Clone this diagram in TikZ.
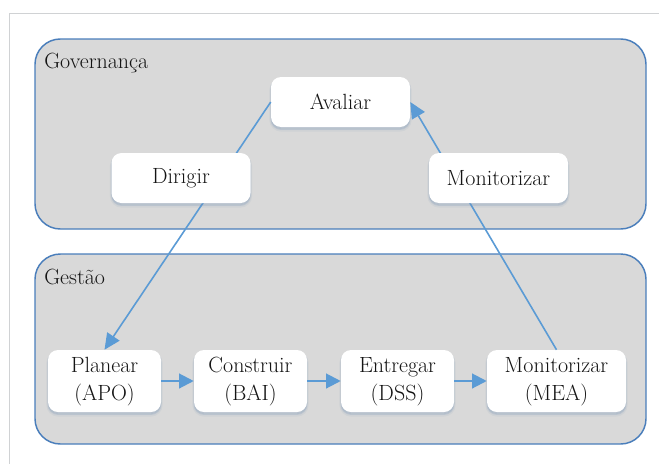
\documentclass[tikz,border=0pt]{standalone}
\usepackage{fontspec}
\usetikzlibrary{arrows.meta}
\definecolor{flow}{RGB}{91,155,213}
\definecolor{frameline}{RGB}{74,126,187}
\definecolor{panel}{RGB}{217,217,217}
\definecolor{pagerule}{RGB}{208,210,212}
\definecolor{ink}{RGB}{20,20,20}
\definecolor{shadowtint}{RGB}{120,150,185}
\newcommand{\twoline}[2]{\raisebox{-4pt}{\begin{tabular}{@{}c@{}}#1\\#2\end{tabular}}}
\tikzset{
  txt/.style={font=\fontsize{16.5}{20.5}\selectfont, text=ink},
  panelbox/.style={draw=frameline, line width=1.1pt, fill=panel, rounded corners=19pt},
  card/.style={txt, fill=white, rounded corners=7.5pt, align=center,
    minimum height=37.5pt, minimum width=104.25pt, inner sep=0pt,
    preaction={draw=shadowtint, draw opacity=0.10, line width=2.4pt, fill=shadowtint, fill opacity=0.10, transform canvas={yshift=-2.2pt}},
    preaction={draw=shadowtint, draw opacity=0.12, line width=1.2pt, fill=shadowtint, fill opacity=0.12, transform canvas={yshift=-1.6pt}},
    preaction={fill=shadowtint, fill opacity=0.16, transform canvas={yshift=-0.9pt}}},
  stagecard/.style={card, minimum height=46.5pt, minimum width=84.75pt},
  link/.style={draw=flow, line width=1.2pt},
  flowarrow/.style={link, -{Triangle[length=12pt,width=11pt]}},
  stagearrow/.style={draw=flow, line width=1.6pt, -{Triangle[length=11pt,width=11pt]}}
}
\begin{document}
\begin{tikzpicture}[x=0.75pt,y=-0.75pt]
\useasboundingbox (0,0) rectangle (659,464);
% page rules
\draw[pagerule, line width=0.8pt] (659,13.5) -- (9.5,13.5) -- (9.5,464);
% panels
\path[panelbox] (35,39) rectangle (646,229);
\path[panelbox] (35,254) rectangle (646,444);
\node[txt, anchor=base west, inner sep=0pt] (gov) at (44,68) {Governança};
\node[txt, anchor=base west, inner sep=0pt] (ges) at (44,284) {Gestão};
% top and bottom cards
\node[card] (aval) at (340.5,102) {Avaliar};
\node[stagecard] (apo) at (104.5,381) {\twoline{Planear}{(APO)}};
\node[stagecard] (bai) at (250.5,381) {\twoline{Construir}{(BAI)}};
\node[stagecard] (dss) at (397.5,381) {\twoline{Entregar}{(DSS)}};
\node[stagecard, minimum width=104.25pt] (mea) at (556.5,381) {\twoline{Monitorizar}{(MEA)}};
% governance loop (passes behind the middle cards)
\draw[flowarrow] (aval.west) -- (apo.north);
\draw[flowarrow] (mea.north) -- (aval.east);
\node[card] (dir) at (181,178) {Dirigir};
\node[card] (mon) at (498.5,178) {Monitorizar};
% management chain
\draw[stagearrow] (apo) -- (bai);
\draw[stagearrow] (bai) -- (dss);
\draw[stagearrow] (dss) -- (mea);
\end{tikzpicture}
\end{document}
